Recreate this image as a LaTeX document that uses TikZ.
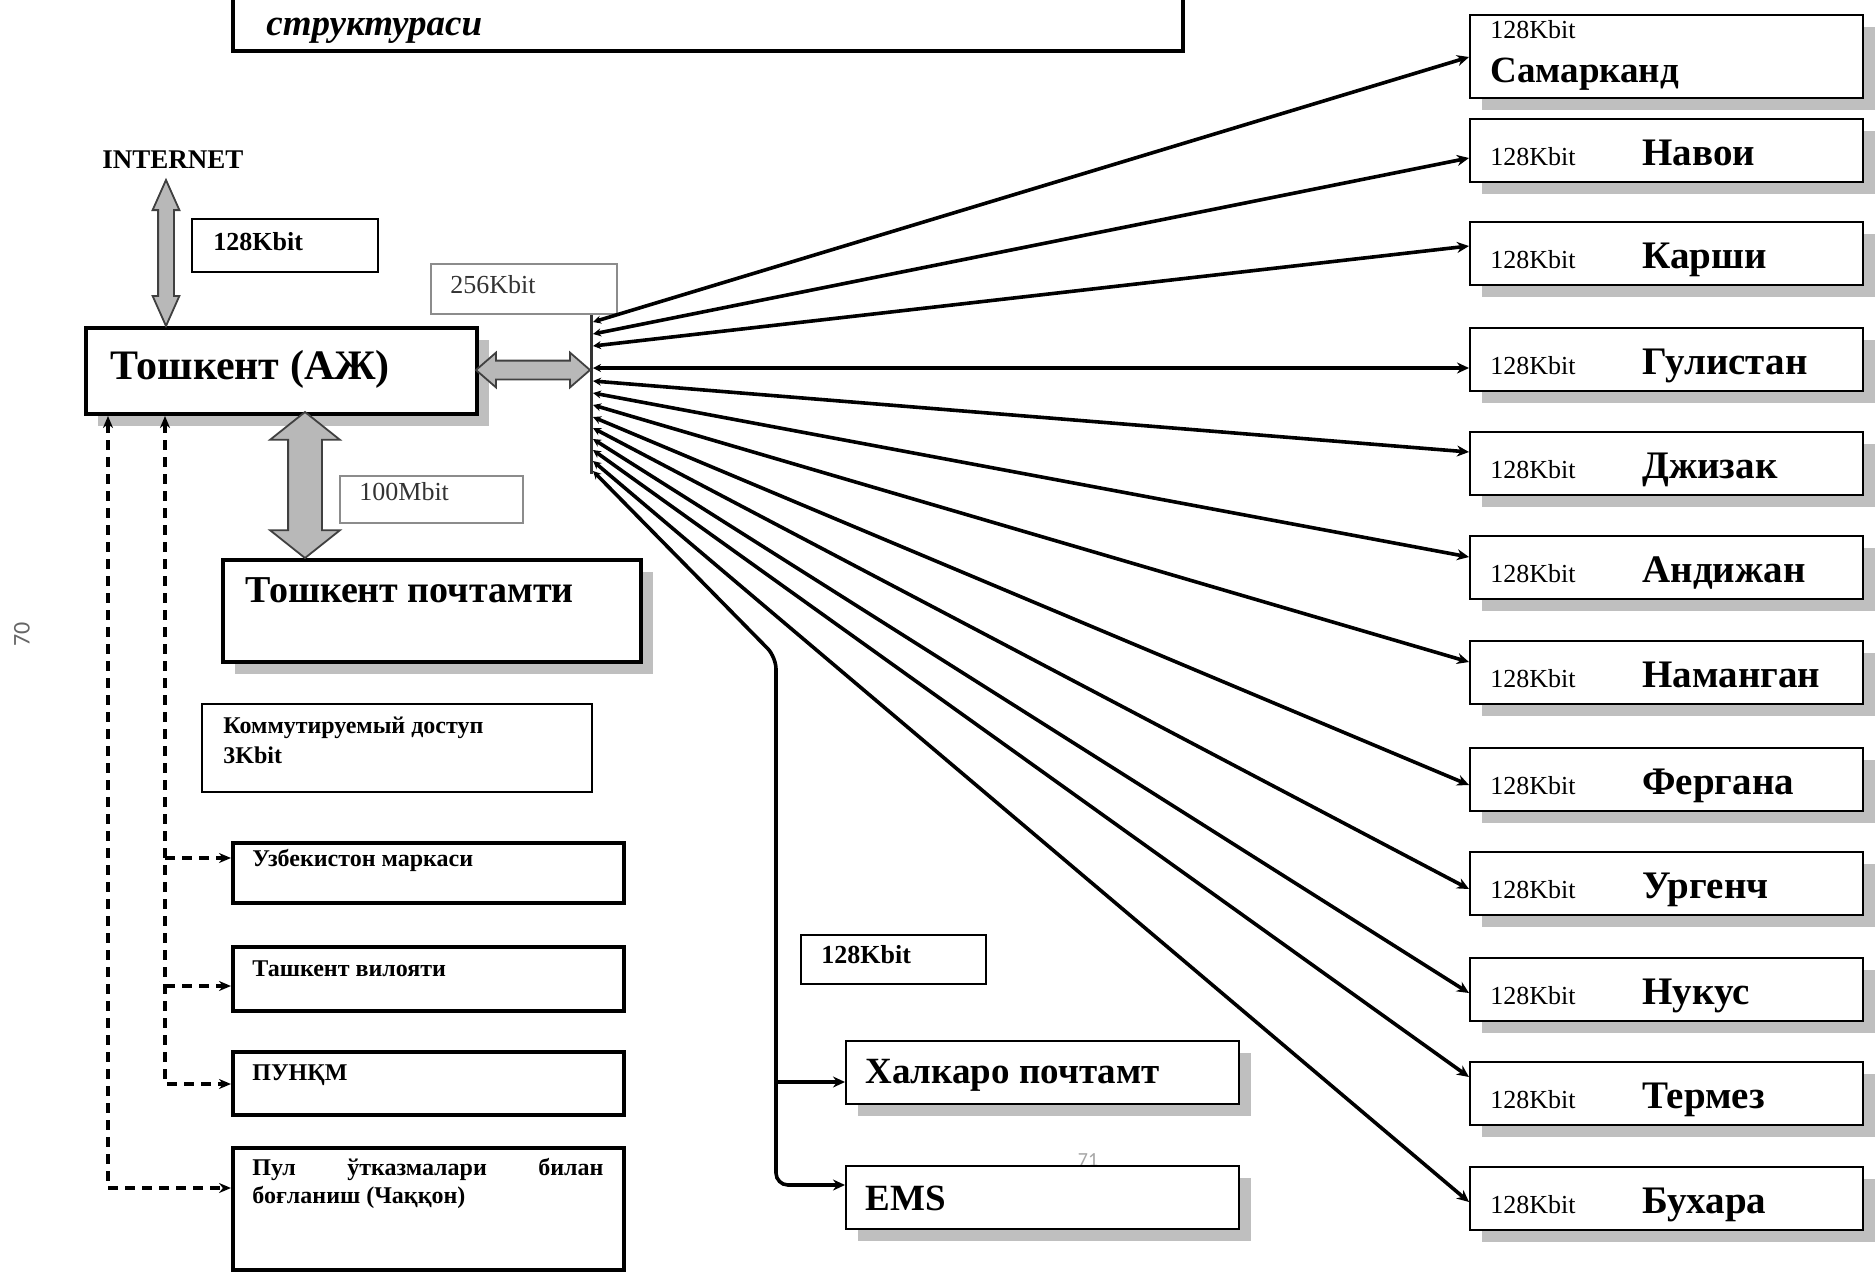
\documentclass[tikz,border=0pt]{standalone}
\usepackage{fontspec}
\setmainfont{Liberation Serif}
\newfontfamily\pagenumfont{Carlito}
\usetikzlibrary{calc,
	positioning,
	shapes.arrows,
	shadows,
	arrows.meta}
\tikzstyle{boxshadow}=[drop shadow={shadow xshift=6pt, shadow yshift=-6pt, fill=black!25, opacity=1}]
\tikzstyle{citybox}=[draw, line width=1.2pt, fill=white, boxshadow, anchor=north west, inner sep=0, minimum width=196.5pt, minimum height=31.5pt]
\tikzstyle{rate}=[inner sep=0, anchor=base west, font=\fontsize{13pt}{15pt}\selectfont]
\tikzstyle{cityname}=[inner sep=0, anchor=base west, font=\fontsize{19.5pt}{22pt}\selectfont\bfseries]
\tikzstyle{mainbox}=[draw, line width=2pt, fill=white, boxshadow, anchor=north west, inner sep=0]
\tikzstyle{mainname}=[inner sep=0, anchor=base west, font=\fontsize{21pt}{24pt}\selectfont\bfseries]
\tikzstyle{subbox}=[draw, line width=1.8pt, fill=white, anchor=north west, inner sep=0, minimum width=195.5pt]
\tikzstyle{subtext}=[inner sep=0, anchor=base west, font=\fontsize{12pt}{14pt}\selectfont\bfseries]
\tikzstyle{labbox}=[draw, line width=1.1pt, anchor=north west, inner sep=0]
\tikzstyle{greylab}=[draw=black!45, line width=0.8pt, anchor=north west, inner sep=0]
\tikzstyle{labtext}=[inner sep=0, anchor=base west, font=\fontsize{13pt}{15pt}\selectfont\bfseries]
\tikzstyle{fatarrow}=[shape=double arrow, draw=black!75, fill=black!28, line width=0.9pt, inner xsep=0pt]
\tikzstyle{fan}=[line width=1.8pt, {Stealth[length=4pt,width=4pt]}-{Stealth[length=6pt,width=5.5pt]}]
\tikzstyle{dashlink}=[line width=1.7pt, dash pattern=on 5pt off 3.5pt]

\begin{document}
\begin{tikzpicture}[x=0.5pt, y=-0.5pt]
\clip (0,0) rectangle (1876,1276);
\fill[white] (0,0) rectangle (1876,1276);

% title (cut at the top)
\node[draw, line width=1.8pt, anchor=south west, minimum width=475pt, minimum height=60pt, inner sep=0] (title) at (231,53) {};
\node[inner sep=0, anchor=base west, font=\fontsize{18.5pt}{20pt}\selectfont\bfseries\itshape] at (266,35) {структураси};

% page numbers
\node[rotate=90, text=black!60, font=\pagenumfont\fontsize{12pt}{14pt}\selectfont] (p70) at (22,634) {70};
\node[text=black!35, font=\pagenumfont\fontsize{10pt}{12pt}\selectfont] (p71) at (1088,1160) {71};

% Tashkent hub
\node[mainbox, minimum width=195.5pt, minimum height=43pt] (aj) at (84,326) {};
\node[mainname] at (110,379) {Тошкент (АЖ)};

\node[inner sep=0, anchor=base west, font=\fontsize{13.5pt}{15pt}\selectfont\bfseries] (inet) at (102,168) {INTERNET};
\node[fatarrow, rotate=90, minimum height=73pt, inner ysep=3.5pt, double arrow head extend=2.75pt, double arrow tip angle=48] (ia) at (166,253) {};
\node[labbox, minimum width=93pt, minimum height=26.5pt] (l128) at (191,218) {};
\node[labtext] at (213,250) {128Kbit};

% hub to the bar
\draw[line width=1.5pt, black!80] (591,313) coordinate (bartop) -- (591,474) coordinate (barbot);
\node[fatarrow, minimum height=57pt, inner ysep=4.25pt, double arrow head extend=4pt, double arrow tip angle=82] (ha) at (533,370) {};
\node[greylab, minimum width=93pt, minimum height=25pt] (l256) at (430,263) {};
\node[labtext, font=\fontsize{13pt}{15pt}\selectfont, text=black!80] at (450,293) {256Kbit};

% post office
\node[mainbox, minimum width=209pt, minimum height=51pt] (post) at (221,558) {};
\node[mainname, font=\fontsize{19pt}{22pt}\selectfont\bfseries] at (245,602) {Тошкент почтамти};
\node[fatarrow, rotate=90, minimum height=73pt, inner ysep=8pt, double arrow head extend=9pt, double arrow tip angle=103] (pa) at (305,485) {};
\node[greylab, minimum width=91.5pt, minimum height=23.5pt] (l100) at (339,475) {};
\node[labtext, font=\fontsize{13pt}{15pt}\selectfont, text=black!80] at (359,500) {100Mbit};

% dial-up and branches
\node[subbox, line width=1pt, minimum width=195pt, minimum height=44pt] (dial) at (201,703) {};
\node[subtext] at (223,733) {Коммутируемый доступ};
\node[subtext] at (223,763) {3Kbit};

\node[subbox, minimum height=30pt] (uzm) at (231,841) {};
\node[subtext] at (252,866) {Узбекистон маркаси};
\node[subbox, minimum height=32pt] (tvil) at (231,945) {};
\node[subtext] at (252,976) {Ташкент вилояти};
\node[subbox, minimum height=31.5pt] (punk) at (231,1050) {};
\node[subtext] at (252,1080) {ПУНҚМ};
\node[subbox, minimum height=61pt] (pul) at (231,1146) {};
\node[subtext] at (252,1175) {\makebox[175.5pt][s]{Пул ўтказмалари билан}};
\node[subtext] at (252,1203) {боғланиш (Чаққон)};

\coordinate (dA) at (108,1188);
\coordinate (dB) at (165,1084);
\coordinate (dU) at (165,858);
\coordinate (dT) at (165,986);
\draw[dashlink, {Stealth[length=6pt,width=5pt]}-{Stealth[length=6pt,width=5pt]}] (aj.south -| dA) -- (dA) -- (dA -| pul.west);
\draw[dashlink, {Stealth[length=6pt,width=5pt]}-{Stealth[length=6pt,width=5pt]}] (aj.south -| dB) -- (dB) -- (dB -| punk.west);
\draw[dashlink, -{Stealth[length=6pt,width=5pt]}] (dU) -- (dU -| uzm.west);
\draw[dashlink, -{Stealth[length=6pt,width=5pt]}] (dT) -- (dT -| tvil.west);

% international and EMS
\node[citybox] (hal) at (845,1040) {};
\node[cityname, font=\fontsize{18.5pt}{22pt}\selectfont\bfseries] at (865,1083) {Халкаро почтамт};
\node[citybox] (ems) at (845,1165) {};
\node[cityname, font=\fontsize{18.5pt}{22pt}\selectfont\bfseries] at (865,1210) {EMS};
\node[labbox, minimum width=92.5pt, minimum height=24.5pt] (l128b) at (800,934) {};
\node[labtext] at (821,963) {128Kbit};
\coordinate (kink) at (776,657);
\coordinate (hj) at (776,1082);
\coordinate (ej) at (776,1185);
\draw[fan, rounded corners=6pt] (593,471) -- (kink) -- (ej) -- (ej -| ems.west);
\draw[fan, -{Stealth[length=6pt,width=5.5pt]}] (hj) -- (hj -| hal.west);

% regions
\node[citybox, minimum height=41.5pt] (sam) at (1469,14) {};
\node[rate] at (1490,38) {128Kbit};
\node[cityname, font=\fontsize{18.5pt}{22pt}\selectfont\bfseries] at (1490,82) {Самарканд};
\draw[fan] (593,322) -- ([yshift=-21.5pt]sam.north west);

\foreach \nm/\yy/\tip/\by [count=\i] in {Навои/118/40/334, Карши/221/25/346,
    Гулистан/327/41/368, Джизак/431/21/381, Андижан/535/22/393,
    Наманган/640/22/405, Фергана/747/38/417, Ургенч/851/38/428,
    Нукус/957/36/439, Термез/1061/16/450, Бухара/1166/36/461} {
  \node[citybox] (c\i) at (1469,\yy) {};
  \node[rate] at (1490,\yy+47) {128Kbit};
  \node[cityname] at (1642,\yy+47) {\nm};
  \coordinate (b\i) at (593,\by);
  \draw[fan] (b\i) -- ([yshift={-\tip*0.5pt}]c\i.north west);
}
\end{tikzpicture}
\end{document}
